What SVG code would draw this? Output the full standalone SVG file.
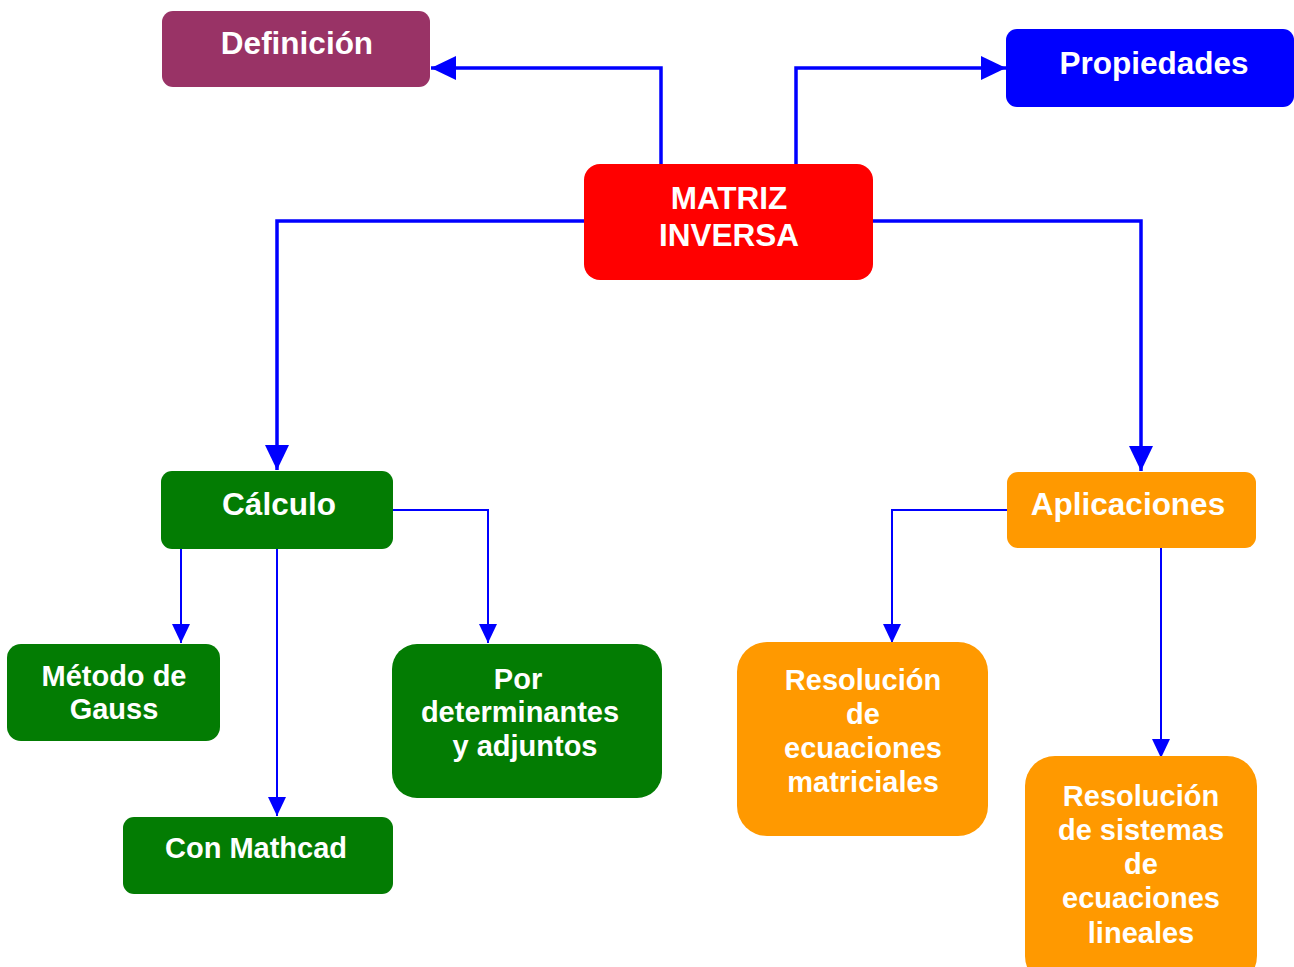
<svg xmlns="http://www.w3.org/2000/svg" width="1294" height="967" viewBox="0 0 1294 967">
<style>
.t{font-family:"Liberation Sans",Arial,sans-serif;font-weight:bold;fill:#fff;text-anchor:middle}
.big{font-size:31.5px}
.sm{font-size:29px}
.thick{fill:none;stroke:#0000ff;stroke-width:3.5}
.thin{fill:none;stroke:#0000ff;stroke-width:2}
</style>
<defs>
<marker id="ab" markerUnits="userSpaceOnUse" markerWidth="26" markerHeight="26" refX="25" refY="12" orient="auto"><path d="M0,0 L25,12 L0,24 z" fill="#0000ff"/></marker>
<marker id="as" markerUnits="userSpaceOnUse" markerWidth="20" markerHeight="20" refX="19" refY="9" orient="auto"><path d="M0,0 L19,9 L0,18 z" fill="#0000ff"/></marker>
</defs>
<rect width="1294" height="967" fill="#fff"/>
<g id="connectors">
<path class="thick" d="M661,164 V68 H431" marker-end="url(#ab)"/>
<path class="thick" d="M796,164 V68 H1006" marker-end="url(#ab)"/>
<path class="thick" d="M584,221 H277 V470" marker-end="url(#ab)"/>
<path class="thick" d="M873,221 H1141 V471" marker-end="url(#ab)"/>
<path class="thin" d="M181,549 V643" marker-end="url(#as)"/>
<path class="thin" d="M277,549 V816" marker-end="url(#as)"/>
<path class="thin" d="M393,510 H488 V643" marker-end="url(#as)"/>
<path class="thin" d="M1007,510 H892 V643" marker-end="url(#as)"/>
<path class="thin" d="M1161,547 V758" marker-end="url(#as)"/>
</g>
<g id="definicion"><rect x="162" y="11" width="268" height="76" rx="11" fill="#993366"/><text class="t big" x="297" y="54">Definición</text></g>
<g id="propiedades"><rect x="1006" y="29" width="288" height="78" rx="11" fill="#0000ff"/><text class="t big" x="1154" y="74">Propiedades</text></g>
<g id="matriz"><rect x="584" y="164" width="289" height="116" rx="16" fill="#ff0000"/><text class="t big" x="729" y="209">MATRIZ</text><text class="t big" x="729" y="246">INVERSA</text></g>
<g id="calculo"><rect x="161" y="471" width="232" height="78" rx="11" fill="#037c03"/><text class="t big" x="279" y="515">Cálculo</text></g>
<g id="aplicaciones"><rect x="1007" y="472" width="249" height="76" rx="11" fill="#ff9900"/><text class="t big" x="1128" y="515">Aplicaciones</text></g>
<g id="gauss"><rect x="7" y="644" width="213" height="97" rx="14" fill="#037c03"/><text class="t sm" x="114" y="686">Método de</text><text class="t sm" x="114" y="719">Gauss</text></g>
<g id="mathcad"><rect x="123" y="817" width="270" height="77" rx="11" fill="#037c03"/><text class="t sm" x="256" y="858">Con Mathcad</text></g>
<g id="determinantes"><rect x="392" y="644" width="270" height="154" rx="25" fill="#037c03"/><text class="t sm" x="518" y="689">Por</text><text class="t sm" x="520" y="722">determinantes</text><text class="t sm" x="525" y="756">y adjuntos</text></g>
<g id="matriciales"><rect x="737" y="642" width="251" height="194" rx="30" fill="#ff9900"/><text class="t sm" x="863" y="690">Resolución</text><text class="t sm" x="863" y="724">de</text><text class="t sm" x="863" y="758">ecuaciones</text><text class="t sm" x="863" y="792">matriciales</text></g>
<g id="sistemas"><rect x="1025" y="756" width="232" height="230" rx="30" fill="#ff9900"/><text class="t sm" x="1141" y="806">Resolución</text><text class="t sm" x="1141" y="840">de sistemas</text><text class="t sm" x="1141" y="874">de</text><text class="t sm" x="1141" y="908">ecuaciones</text><text class="t sm" x="1141" y="943">lineales</text></g>
</svg>
